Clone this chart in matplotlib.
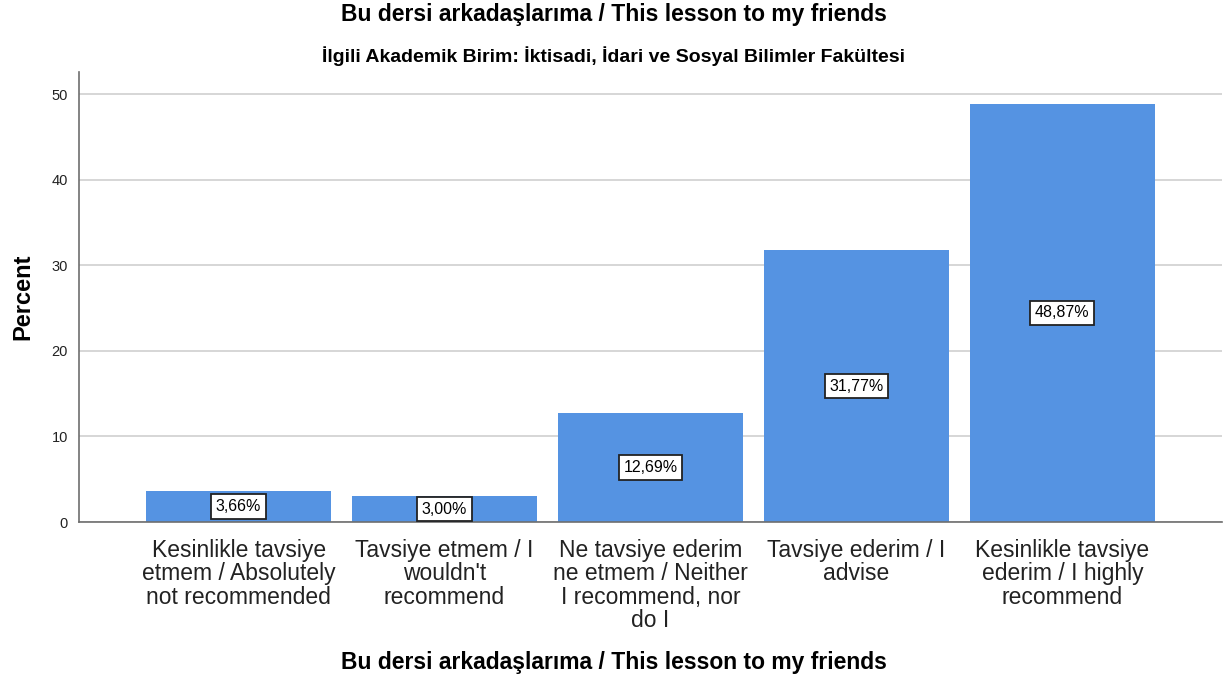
import matplotlib
matplotlib.use("Agg")
from matplotlib import pyplot as plt
import numpy as np

plt.rcParams["font.family"] = ["Liberation Sans", "DejaVu Sans"]

categories = [
    "Kesinlikle tavsiye\netmem / Absolutely\nnot recommended",
    "Tavsiye etmem / I\nwouldn't\nrecommend",
    "Ne tavsiye ederim\nne etmem / Neither\nI recommend, nor\ndo I",
    "Tavsiye ederim / I\nadvise",
    "Kesinlikle tavsiye\nederim / I highly\nrecommend",
]
percent = [3.66, 3.00, 12.69, 31.77, 48.87]
yticks = [0, 10, 20, 30, 40, 50]

fig = plt.figure(figsize=(12.27, 6.83), dpi=100)
ax = fig.add_axes([79 / 1227, 1 - 522 / 683, (1222 - 79) / 1227, (522 - 72) / 683])

x = np.arange(len(percent))
ax.bar(x, percent, width=0.9, color="#5593e2", zorder=2)

for xi, v in zip(x, percent):
    ax.text(xi, v / 2, f"{v:.2f}%".replace(".", ","), ha="center", va="center",
            fontsize=11.5, zorder=3,
            bbox=dict(boxstyle="square,pad=0.3", fc="white", ec="#222222", lw=1.3))

ax.set_xlim(-0.775, 4.775)
ax.set_ylim(0, 52.6)
ax.set_yticks(yticks)
ax.yaxis.grid(True, color="#d0d0d0", lw=1.2, zorder=0)
ax.set_axisbelow(True)
ax.set_xticks(x)
ax.set_xticklabels(categories, fontsize=16.5, color="#222222", linespacing=1.03)
ax.tick_params(axis="x", length=0, pad=12)
ax.tick_params(axis="y", length=0, labelsize=10.5, colors="#222222", pad=8)

for s in ["top", "right"]:
    ax.spines[s].set_visible(False)
ax.spines["left"].set_color("#6e6e6e")
ax.spines["bottom"].set_color("#6e6e6e")
ax.spines["left"].set_linewidth(1.2)
ax.spines["bottom"].set_linewidth(1.2)

ax.set_ylabel("Percent", fontsize=17, fontweight="bold", labelpad=12)
fig.text(0.5, 1 - 663 / 683, "Bu dersi arkadaşlarıma / This lesson to my friends",
         ha="center", va="center", fontsize=16.5, fontweight="bold")

fig.text(0.5, 1 - 15 / 683, "Bu dersi arkadaşlarıma / This lesson to my friends",
         ha="center", va="center", fontsize=16.5, fontweight="bold")
fig.text(0.5, 1 - 56 / 683, "İlgili Akademik Birim: İktisadi, İdari ve Sosyal Bilimler Fakültesi",
         ha="center", va="center", fontsize=14, fontweight="bold")

fig.savefig("out.png", dpi=100)
